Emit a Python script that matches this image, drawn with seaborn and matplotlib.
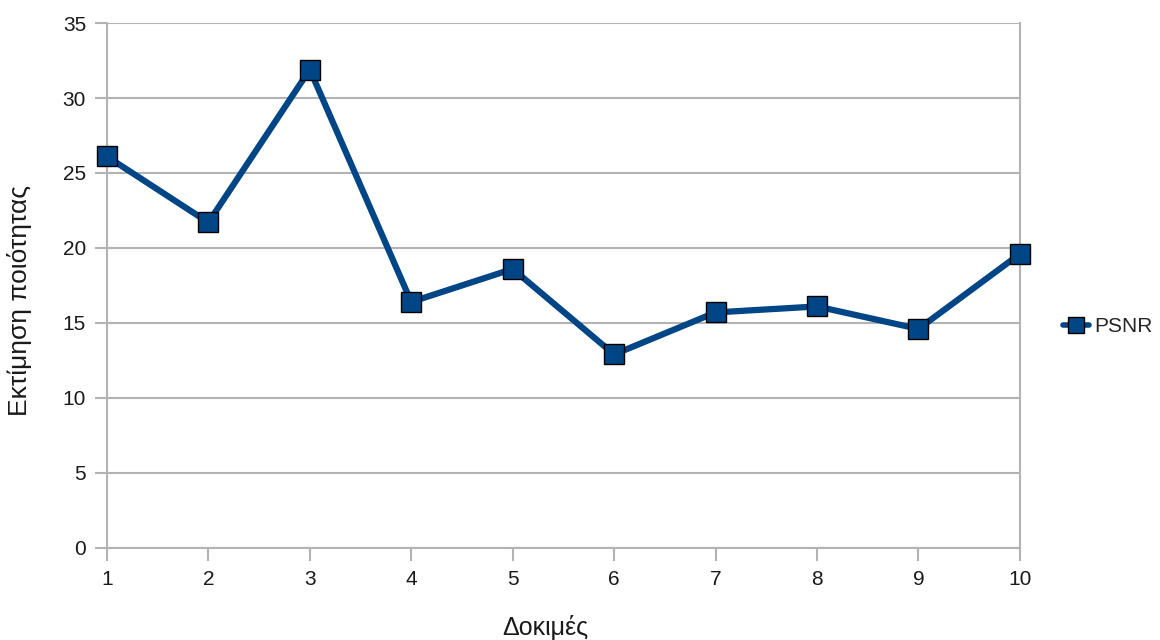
import matplotlib
matplotlib.use("Agg")
import matplotlib.pyplot as plt
import seaborn as sns
import pandas as pd

# PSNR per trial
trials = [1, 2, 3, 4, 5, 6, 7, 8, 9, 10]
psnr = [26.1, 21.7, 31.9, 16.4, 18.6, 12.9, 15.7, 16.1, 14.6, 19.6]
series_name = "PSNR"
x_label = "Δοκιμές"
y_label = "Εκτίμηση ποιότητας"

df = pd.DataFrame({"trial": trials, "value": psnr, "series": series_name})

sns.set_theme(style="white")
plt.rcParams["font.family"] = ["Liberation Sans", "DejaVu Sans"]

grid_c = "#b3b3b3"
line_c = "#004586"
text_c = "#1a1a1a"

fig = plt.figure(figsize=(11.6, 6.4), dpi=100)
ax = fig.add_axes([0.0922, 0.144, 0.787, 0.820])

sns.lineplot(data=df, x="trial", y="value", hue="series", palette=[line_c],
             marker="s", markersize=15, markeredgecolor="black",
             markeredgewidth=1.0, linewidth=4.5, ax=ax, zorder=3)
for ln in ax.lines:
    ln.set_clip_on(False)

ax.set_xlim(1, 10)
ax.set_ylim(0, 35)
ax.set_xticks(trials)
ax.set_yticks(range(0, 36, 5))
ax.yaxis.grid(True, color=grid_c, linewidth=1.5)
ax.xaxis.grid(False)
for side in ["left", "right", "bottom"]:
    ax.spines[side].set_color(grid_c)
    ax.spines[side].set_linewidth(1.5)
ax.spines["top"].set_visible(False)
ax.tick_params(axis="both", colors=grid_c, labelcolor=text_c, labelsize=15,
               length=9, width=1.5, direction="out", left=True, bottom=True)
ax.tick_params(axis="y", pad=6)
ax.tick_params(axis="x", pad=7)

ax.set_xlabel(x_label, fontsize=18, color=text_c)
ax.set_ylabel(y_label, fontsize=19, color=text_c)
ax.xaxis.set_label_coords(0.48, -0.128)
ax.yaxis.set_label_coords(-0.082, 0.472)

leg = ax.legend(loc="center left", bbox_to_anchor=(1.047, 0.421), frameon=False,
                fontsize=15, handlelength=1.25, handletextpad=0.25,
                borderpad=0, borderaxespad=0)
for h in leg.legend_handles:
    h.set_markersize(12)
    h.set_linewidth(4)

fig.savefig("out.png", dpi=100)
